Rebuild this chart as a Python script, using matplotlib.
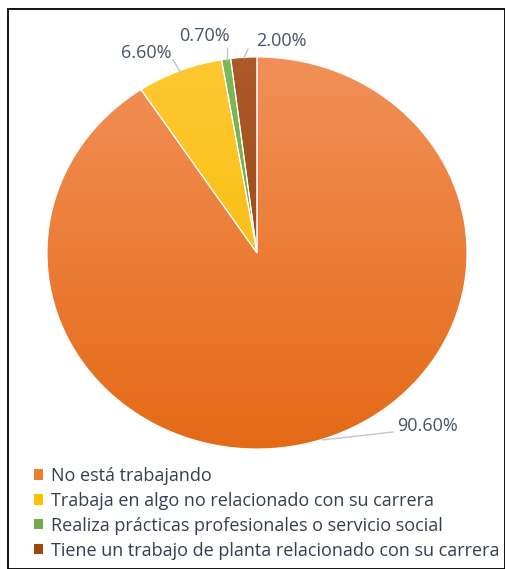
import numpy as np
import matplotlib
matplotlib.use("Agg")
import matplotlib.pyplot as plt
from matplotlib.patches import Patch, Rectangle
from matplotlib.colors import LinearSegmentedColormap

plt.rcParams['font.family'] = ['Open Sans', 'DejaVu Sans']

categories = ["No está trabajando",
              "Trabaja en algo no relacionado con su carrera",
              "Realiza prácticas profesionales o servicio social",
              "Tiene un trabajo de planta relacionado con su carrera"]
values = [90.6, 6.6, 0.7, 2.0]
labels = ["90.60%", "6.60%", "0.70%", "2.00%"]
colors = ["#ED7D31", "#FFC000", "#70AD47", "#9E480E"]
light = ["#F29058", "#FFC830", "#7DB95A", "#AD5A2A"]
dark = ["#E46A16", "#F5B800", "#66A03F", "#8F3F0A"]

W, H = 506, 569
fig = plt.figure(figsize=(W / 100, H / 100), dpi=100)
ax = fig.add_axes([0, 0, 1, 1])

# the original picture is a bit squashed vertically: 420 px wide, 392 px tall
R = 210
sy = 196 / 210
cx, cy = 257, (H - 253) / sy
wedges, _ = ax.pie(values, colors=colors, startangle=90, counterclock=False,
                   center=(cx, cy), radius=R,
                   wedgeprops=dict(edgecolor="white", linewidth=0.8))

# vertical gradient fill inside each wedge
grad = np.linspace(0, 1, 256).reshape(-1, 1)
for w, lc, dc in zip(wedges, light, dark):
    cmap = LinearSegmentedColormap.from_list("g", [dc, lc])
    im = ax.imshow(grad, cmap=cmap, origin="lower", aspect="auto",
                   extent=(cx - R, cx + R, cy - R, cy + R), zorder=1)
    im.set_clip_path(w)
    w.set_zorder(2)
    w.set_facecolor("none")

ax.set_xlim(0, W)
ax.set_ylim(0, H / sy)
ax.set_aspect("auto")
ax.set_axis_off()

# data labels with leader lines (pixel positions, measured from top)
lab_col = "#44546A"
line_col = "#BFC5CF"
pos = {"90.60%": (428, 426), "6.60%": (146, 53), "0.70%": (204, 36), "2.00%": (281, 41)}
lines = {"90.60%": [(393, 432), (322, 440)],
         "6.60%": [(173, 60), (181, 73)],
         "0.70%": [(227, 48), (227, 60)],
         "2.00%": [(248, 49), (244, 58)]}
tf = fig.transFigure
for lab in labels:
    x, y = pos[lab]
    ax.text(x / W, 1 - y / H, lab, ha="center", va="center", fontsize=13,
            color=lab_col, transform=tf)
    (x1, y1), (x2, y2) = lines[lab]
    ax.plot([x1 / W, x2 / W], [1 - y1 / H, 1 - y2 / H], color=line_col, lw=1,
            transform=tf, clip_on=False)

handles = [Patch(facecolor=c, edgecolor="none") for c in colors]
fig.legend(handles, categories, loc="upper left", bbox_to_anchor=(25 / W, 1 - 458 / H),
           frameon=False, fontsize=13, handlelength=0.5, handleheight=0.5,
           handletextpad=0.45, labelspacing=0.38, labelcolor="#333F50", borderpad=0)

fig.patches.append(Rectangle((8 / W, 0.5 / H), (W - 9) / W, (H - 9) / H,
                             transform=fig.transFigure, fill=False,
                             edgecolor="black", linewidth=1.3))

fig.savefig("out.png", dpi=100)
